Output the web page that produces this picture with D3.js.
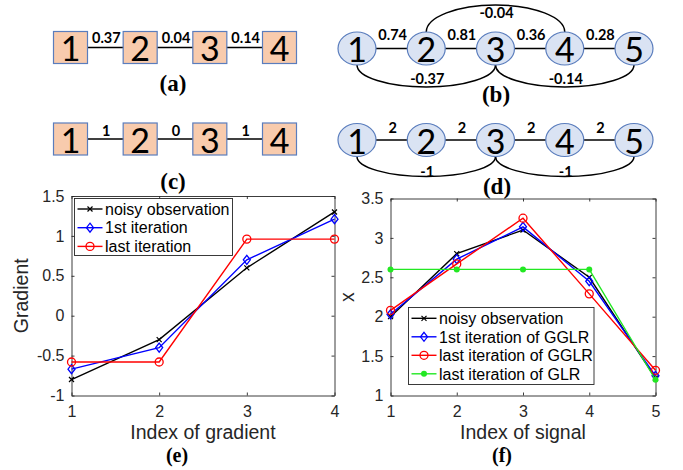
<!DOCTYPE html>
<html>
<head>
<meta charset="utf-8">
<script src="https://cdn.jsdelivr.net/npm/d3@7"></script>
<style>
  body { margin: 0; background: #fff; }
  svg { display: block; }
</style>
</head>
<body>
<script>
// graph panels
const chainNodes4 = [1, 2, 3, 4];
const weightsA = ['0.37', '0.04', '0.14'];
const weightsC = ['1', '0', '1'];
const chainNodes5 = [1, 2, 3, 4, 5];
const weightsB = ['0.74', '0.81', '0.36', '0.28'];
const arcsB = [
  { from: 2, to: 4, w: '-0.04', side: 'top' },
  { from: 1, to: 3, w: '-0.37', side: 'bottom' },
  { from: 3, to: 5, w: '-0.14', side: 'bottom' },
];
const weightsD = ['2', '2', '2', '2'];
const arcsD = [
  { from: 1, to: 3, w: '-1', side: 'bottom' },
  { from: 3, to: 5, w: '-1', side: 'bottom' },
];

// plot (e)
const gradIndex = [1, 2, 3, 4];
const gradNoisy = [-0.8, -0.3, 0.6, 1.3];
const grad1st = [-0.67, -0.4, 0.7, 1.21];
const gradLast = [-0.58, -0.58, 0.96, 0.96];
const gradYTicks = [-1, -0.5, 0, 0.5, 1, 1.5];

// plot (f)
const sigIndex = [1, 2, 3, 4, 5];
const sigNoisy = [2.0, 2.8, 3.1, 2.5, 1.22];
const sig1st = [2.03, 2.73, 3.14, 2.45, 1.25];
const sigLastGGLR = [2.08, 2.67, 3.25, 2.29, 1.32];
const sigLastGLR = [2.6, 2.6, 2.6, 2.6, 1.2];
const sigYTicks = [1, 1.5, 2, 2.5, 3, 3.5];

const W = 683, H = 470;
const sans = '"Liberation Sans", Arial, sans-serif';
const calib = 'Lato, "Open Sans", sans-serif';
const serif = '"Liberation Serif", "Times New Roman", serif';
const axisColor = '#262626';

const svg = d3.select('body').append('svg').attr('width', W).attr('height', H);

// ---------- graph drawings ----------
const drawChain = (opts) => {
  const { nodes, weights, arcs, xScale, cy, shape, labelDy, caption, capX, capY, arcRy, arcLabels } = opts;
  const g = svg.append('g');
  const half = shape === 'box' ? { w: 17, h: 16 } : { w: 19, h: 16.5 };

  // chain edges
  g.selectAll('line.edge')
    .data(d3.pairs(nodes))
    .enter()
    .append('line')
    .attr('x1', (d) => xScale(d[0]))
    .attr('x2', (d) => xScale(d[1]))
    .attr('y1', cy)
    .attr('y2', cy)
    .attr('stroke', '#000')
    .attr('stroke-width', 1.5);

  // arcs
  if (arcs) {
    g.selectAll('path.arc')
      .data(arcs)
      .enter()
      .append('path')
      .attr('d', (d) => {
        const x1 = xScale(d.from), x2 = xScale(d.to);
        const top = d.side === 'top';
        const y0 = top ? cy - half.h : cy + half.h;
        const rx = (x2 - x1) / 2;
        const ry = top ? arcRy.top : arcRy.bottom;
        return `M${x1},${y0} A${rx},${ry} 0 0 ${top ? 1 : 0} ${x2},${y0}`;
      })
      .attr('fill', 'none')
      .attr('stroke', '#000')
      .attr('stroke-width', 1.5);
  }

  // nodes
  if (shape === 'box') {
    g.selectAll('rect.node')
      .data(nodes)
      .enter()
      .append('rect')
      .attr('x', (d) => xScale(d) - half.w)
      .attr('y', cy - half.h)
      .attr('width', half.w * 2)
      .attr('height', half.h * 2)
      .attr('fill', '#f8cbad')
      .attr('stroke', '#5a7dbd')
      .attr('stroke-width', 1.2);
  } else {
    g.selectAll('ellipse.node')
      .data(nodes)
      .enter()
      .append('ellipse')
      .attr('cx', (d) => xScale(d))
      .attr('cy', cy)
      .attr('rx', half.w)
      .attr('ry', half.h)
      .attr('fill', '#dae3f3')
      .attr('stroke', '#5a7dbd')
      .attr('stroke-width', 1.2);
  }

  g.selectAll('text.node')
    .data(nodes)
    .enter()
    .append('text')
    .attr('x', (d) => xScale(d))
    .attr('y', cy + 13.5)
    .attr('text-anchor', 'middle')
    .style('font-family', calib)
    .style('font-size', '34px')
    .text((d) => d);

  // chain weights
  g.selectAll('text.w')
    .data(d3.pairs(nodes).map((p, i) => ({ p, w: weights[i] })))
    .enter()
    .append('text')
    .attr('x', (d) => (xScale(d.p[0]) + xScale(d.p[1])) / 2 + 1)
    .attr('y', cy + labelDy)
    .attr('text-anchor', 'middle')
    .style('font-family', calib)
    .style('font-weight', 'bold')
    .style('font-size', '14.5px')
    .text((d) => d.w);

  // arc weights
  if (arcs) {
    g.selectAll('text.aw')
      .data(arcs)
      .enter()
      .append('text')
      .attr('x', (d) => (xScale(d.from) + xScale(d.to)) / 2 + 1)
      .attr('y', (d) => (d.side === 'top' ? arcLabels.top : arcLabels.bottom))
      .attr('text-anchor', 'middle')
      .style('font-family', calib)
      .style('font-weight', 'bold')
      .style('font-size', '14.5px')
      .text((d) => d.w);
  }

  g.append('text')
    .attr('x', capX)
    .attr('y', capY)
    .attr('text-anchor', 'middle')
    .style('font-family', serif)
    .style('font-weight', 'bold')
    .style('font-size', '23px')
    .text(caption);
};

const xBox = d3.scaleLinear().domain([1, 4]).range([70.5, 279.5]);
const xCirc = d3.scaleLinear().domain([1, 5]).range([357, 634]);

drawChain({ nodes: chainNodes4, weights: weightsA, xScale: xBox, cy: 47.5, shape: 'box', labelDy: -5, caption: '(a)', capX: 173, capY: 90.5 });
drawChain({ nodes: chainNodes5, weights: weightsB, arcs: arcsB, xScale: xCirc, cy: 48.5, shape: 'ellipse', labelDy: -8.5, caption: '(b)', capX: 496, capY: 101.5, arcRy: { top: 27, bottom: 22 }, arcLabels: { top: 17.5, bottom: 83.5 } });
drawChain({ nodes: chainNodes4, weights: weightsC, xScale: xBox, cy: 139, shape: 'box', labelDy: -3, caption: '(c)', capX: 173, capY: 188.5 });
drawChain({ nodes: chainNodes5, weights: weightsD, arcs: arcsD, xScale: xCirc, cy: 140, shape: 'ellipse', labelDy: -7, caption: '(d)', capX: 497, capY: 194, arcRy: { top: 20, bottom: 20 }, arcLabels: { top: 0, bottom: 176.5 } });

// ---------- line plots ----------
const markers = {
  cross: (sel, color) =>
    sel.append('path').attr('d', 'M-2.5,-2.5L2.5,2.5M-2.5,2.5L2.5,-2.5').attr('stroke', color).attr('stroke-width', 1.2).attr('fill', 'none'),
  diamond: (sel, color) =>
    sel.append('path').attr('d', 'M0,-4.5L3.5,0L0,4.5L-3.5,0Z').attr('stroke', color).attr('stroke-width', 1.3).attr('fill', 'none'),
  circle: (sel, color) =>
    sel.append('circle').attr('r', 4).attr('stroke', color).attr('stroke-width', 1.3).attr('fill', 'none'),
  dot: (sel, color) =>
    sel.append('circle').attr('r', 3).attr('fill', color),
};

const drawPlot = (opts) => {
  const { xDomain, yDomain, xRange, yRange, xTicks, yTicks, series, xLabel, yLabel, yLabelX, caption, capX, legend } = opts;
  const xScale = d3.scaleLinear().domain(xDomain).range(xRange);
  const yScale = d3.scaleLinear().domain(yDomain).range(yRange);
  const g = svg.append('g');
  const fmt = (v) => String(v);

  const styleAxis = (sel) => {
    sel.selectAll('path, line').attr('stroke', axisColor).attr('stroke-width', 0.9);
    sel.selectAll('text').attr('fill', axisColor).style('font-family', sans).style('font-size', '16px');
  };

  g.append('g')
    .attr('transform', `translate(0,${yRange[0]})`)
    .call(d3.axisBottom(xScale).tickValues(xTicks).tickFormat(fmt).tickSizeInner(-3).tickSizeOuter(0).tickPadding(10))
    .call(styleAxis);
  g.append('g')
    .attr('transform', `translate(0,${yRange[1]})`)
    .call(d3.axisTop(xScale).tickValues(xTicks).tickFormat('').tickSizeInner(-3).tickSizeOuter(0))
    .call(styleAxis);
  g.append('g')
    .attr('transform', `translate(${xRange[0]},0)`)
    .call(d3.axisLeft(yScale).tickValues(yTicks).tickFormat(fmt).tickSizeInner(-3).tickSizeOuter(0).tickPadding(7))
    .call(styleAxis);
  g.append('g')
    .attr('transform', `translate(${xRange[1]},0)`)
    .call(d3.axisRight(yScale).tickValues(yTicks).tickFormat('').tickSizeInner(-3).tickSizeOuter(0))
    .call(styleAxis);
  g.selectAll('.domain').attr('fill', 'none');

  const line = d3.line().x((d) => xScale(d[0])).y((d) => yScale(d[1]));

  series.forEach((s) => {
    const pts = s.x.map((x, i) => [x, s.y[i]]);
    g.append('path').attr('d', line(pts)).attr('fill', 'none').attr('stroke', s.color).attr('stroke-width', 1.4);
    pts.forEach((p) => {
      const m = g.append('g').attr('transform', `translate(${xScale(p[0])},${yScale(p[1])})`);
      markers[s.marker](m, s.color);
    });
  });

  // legend
  const lg = g.append('g').attr('transform', `translate(${legend.x},${legend.y})`);
  lg.append('rect')
    .attr('width', legend.w)
    .attr('height', legend.h)
    .attr('fill', '#fff')
    .attr('stroke', axisColor)
    .attr('stroke-width', 0.9);
  series.forEach((s, i) => {
    const yy = legend.first + i * legend.step;
    lg.append('line').attr('x1', 3).attr('x2', 28).attr('y1', yy).attr('y2', yy).attr('stroke', s.color).attr('stroke-width', 1.4);
    markers[s.marker](lg.append('g').attr('transform', `translate(15.5,${yy})`), s.color);
    lg.append('text')
      .attr('x', 30.5)
      .attr('y', yy)
      .attr('dy', '0.36em')
      .attr('fill', '#000')
      .style('font-family', sans)
      .style('font-size', '16px')
      .text(s.name);
  });

  g.append('text')
    .attr('x', (xRange[0] + xRange[1]) / 2)
    .attr('y', 439)
    .attr('text-anchor', 'middle')
    .attr('fill', axisColor)
    .style('font-family', sans)
    .style('font-size', '19.5px')
    .text(xLabel);

  g.append('text')
    .attr('transform', `translate(${yLabelX},${(yRange[0] + yRange[1]) / 2}) rotate(-90)`)
    .attr('text-anchor', 'middle')
    .attr('fill', axisColor)
    .style('font-family', sans)
    .style('font-size', '19.5px')
    .text(yLabel);

  g.append('text')
    .attr('x', capX)
    .attr('y', 461.5)
    .attr('text-anchor', 'middle')
    .style('font-family', serif)
    .style('font-weight', 'bold')
    .style('font-size', '20px')
    .text(caption);
};

drawPlot({
  xDomain: [1, 4],
  yDomain: [-1, 1.5],
  xRange: [71.5, 334.5],
  yRange: [395.5, 196],
  xTicks: gradIndex,
  yTicks: gradYTicks,
  series: [
    { name: 'noisy observation', x: gradIndex, y: gradNoisy, color: '#000', marker: 'cross' },
    { name: '1st iteration', x: gradIndex, y: grad1st, color: '#0000ff', marker: 'diamond' },
    { name: 'last iteration', x: gradIndex, y: gradLast, color: '#ff0000', marker: 'circle' },
  ],
  xLabel: 'Index of gradient',
  yLabel: 'Gradient',
  yLabelX: 27.5,
  caption: '(e)',
  capX: 177,
  legend: { x: 74.5, y: 198.5, w: 158, h: 57, first: 10.5, step: 18.7 },
});

drawPlot({
  xDomain: [1, 5],
  yDomain: [1, 3.5],
  xRange: [390.5, 655.5],
  yRange: [395.5, 198.5],
  xTicks: sigIndex,
  yTicks: sigYTicks,
  series: [
    { name: 'noisy observation', x: sigIndex, y: sigNoisy, color: '#000', marker: 'cross' },
    { name: '1st iteration of GGLR', x: sigIndex, y: sig1st, color: '#0000ff', marker: 'diamond' },
    { name: 'last iteration of GGLR', x: sigIndex, y: sigLastGGLR, color: '#ff0000', marker: 'circle' },
    { name: 'last iteration of GLR', x: sigIndex, y: sigLastGLR, color: '#22e822', marker: 'dot' },
  ],
  xLabel: 'Index of signal',
  yLabel: 'x',
  yLabelX: 354,
  caption: '(f)',
  capX: 502,
  legend: { x: 408.5, y: 307.5, w: 185.5, h: 77, first: 10.8, step: 18.5 },
});
</script>
</body>
</html>
